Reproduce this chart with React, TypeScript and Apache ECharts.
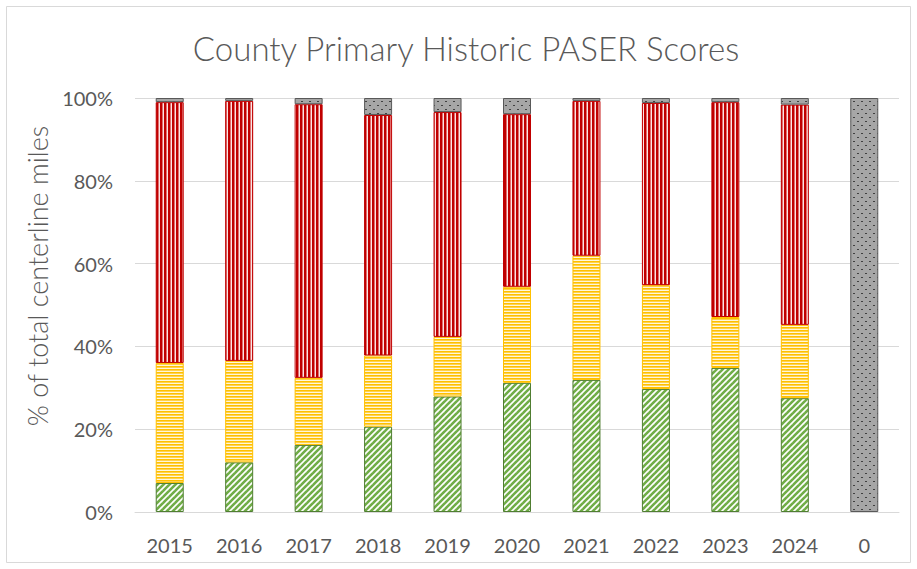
import React, { useEffect, useRef } from "react";
import * as echarts from "echarts";

const categories = ["2015", "2016", "2017", "2018", "2019", "2020", "2021", "2022", "2023", "2024", "0"];
const goodValues = [7.0, 12.0, 16.2, 20.6, 27.9, 31.2, 31.9, 29.7, 34.8, 27.5, null];
const fairValues = [29.0, 24.5, 16.2, 17.2, 14.4, 23.2, 30.0, 25.1, 12.3, 17.7, null];
const poorValues = [63.0, 62.8, 66.1, 58.1, 54.3, 41.7, 37.4, 44.0, 51.9, 53.2, null];
const otherValues = [1.0, 0.7, 1.5, 4.1, 3.4, 3.9, 0.7, 1.2, 1.0, 1.6, 100];
const yTicks = [0, 20, 40, 60, 80, 100];

function makePattern(w: number, h: number, draw: (ctx: CanvasRenderingContext2D) => void) {
  const c = document.createElement("canvas");
  c.width = w;
  c.height = h;
  const ctx = c.getContext("2d") as CanvasRenderingContext2D;
  draw(ctx);
  return { image: c, repeat: "repeat" } as any;
}

export default function App() {
  const ref = useRef<HTMLDivElement>(null);
  useEffect(() => {
    if (!ref.current) return;
    const chart = echarts.init(ref.current, undefined, { renderer: "svg" });

    const greenPat = makePattern(6, 6, (ctx) => {
      ctx.fillStyle = "#ffffff";
      ctx.fillRect(0, 0, 6, 6);
      ctx.strokeStyle = "#70AD47";
      ctx.lineWidth = 2.6;
      for (const k of [-6, 0, 6, 12]) {
        ctx.beginPath();
        ctx.moveTo(-2, k + 2);
        ctx.lineTo(k + 2, -2);
        ctx.stroke();
      }
    });
    const yellowPat = makePattern(1, 3, (ctx) => {
      ctx.fillStyle = "#FFC000";
      ctx.fillRect(0, 0, 1, 1);
      ctx.fillStyle = "#FFD24D";
      ctx.fillRect(0, 1, 1, 1);
      ctx.fillStyle = "#FFF6DA";
      ctx.fillRect(0, 2, 1, 1);
    });
    const redPat = makePattern(4, 1, (ctx) => {
      ctx.fillStyle = "#C00000";
      ctx.fillRect(0, 0, 2, 1);
      ctx.fillStyle = "#E07070";
      ctx.fillRect(2, 0, 1, 1);
      ctx.fillStyle = "#FBE4E4";
      ctx.fillRect(3, 0, 1, 1);
    });
    const grayPat = makePattern(8, 8, (ctx) => {
      ctx.fillStyle = "#A6A6A6";
      ctx.fillRect(0, 0, 8, 8);
      ctx.fillStyle = "#404040";
      ctx.fillRect(1, 1, 2, 1);
      ctx.fillRect(5, 5, 2, 1);
    });

    const mk = (name: string, data: (number | null)[], color: any, border: string) => ({
      name,
      type: "bar",
      stack: "total",
      data: data.map((v) => (v === null ? "-" : v)),
      barWidth: 28,
      itemStyle: { color, borderColor: border, borderWidth: 1 },
      emphasis: { disabled: true },
    });

    chart.setOption({
      animation: false,
      grid: { left: 135, right: 18, top: 98, bottom: 57, containLabel: false },
      xAxis: {
        type: "category",
        data: categories,
        axisLine: { show: true, lineStyle: { color: "#D9D9D9", width: 1 } },
        axisTick: { show: false },
        axisLabel: { color: "#595959", fontSize: 20, fontFamily: "Lato", margin: 23 },
      },
      yAxis: {
        type: "value",
        min: 0,
        max: 100,
        interval: 20,
        axisLine: { show: false },
        axisTick: { show: false },
        splitLine: { lineStyle: { color: "#D9D9D9", width: 1 } },
        axisLabel: {
          color: "#595959",
          fontSize: 20,
          fontFamily: "Lato",
          margin: 22,
          formatter: (v: number) => (yTicks.includes(v) ? v + "%" : ""),
        },
      },
      series: [
        mk("Good", goodValues, greenPat, "#507E32"),
        mk("Fair", fairValues, yellowPat, "#FFC000"),
        mk("Poor", poorValues, redPat, "#C00000"),
        mk("Other", otherValues, grayPat, "#595959"),
      ],
      graphic: [
        {
          type: "rect",
          shape: { x: 6.5, y: 6.5, width: 904, height: 556 },
          style: { fill: "none", stroke: "#D9D9D9", lineWidth: 1 },
          silent: true,
        },
        {
          type: "text",
          x: 466,
          y: 48,
          style: {
            text: "County Primary Historic PASER Scores",
            textAlign: "center",
            textVerticalAlign: "middle",
            fontSize: 33,
            fontWeight: 300,
            fontFamily: "Lato",
            fill: "#595959",
          },
        },
        {
          type: "text",
          x: 37,
          y: 276,
          rotation: Math.PI / 2,
          style: {
            text: "% of total centerline miles",
            textAlign: "center",
            textVerticalAlign: "middle",
            fontSize: 27,
            fontWeight: 300,
            fontFamily: "Lato",
            fill: "#595959",
          },
        },
      ],
    });
    return () => chart.dispose();
  }, []);
  return (
    <div
      ref={ref}
      style={{ position: "absolute", left: 0, top: 0, width: 917, height: 569, background: "#fff" }}
    />
  );
}
